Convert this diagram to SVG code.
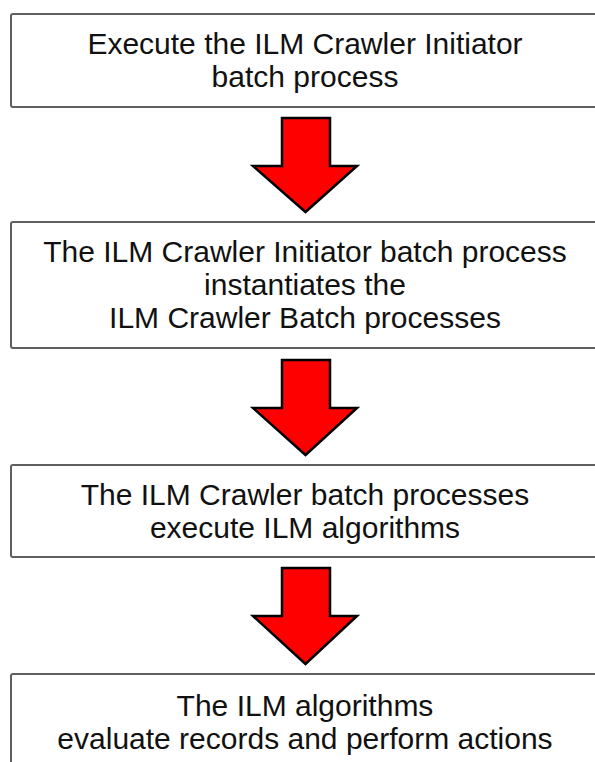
<svg xmlns="http://www.w3.org/2000/svg" width="595" height="762" viewBox="0 0 595 762">
<style>
.box{fill:#ffffff;stroke:#5f5f5f;stroke-width:2}
.t{font-family:"Liberation Sans",Arial,sans-serif;font-size:30px;fill:#111111;text-anchor:middle}
.arr{fill:#ff0000;stroke:#000000;stroke-width:2.5;stroke-linejoin:miter}
</style>
<rect width="595" height="762" fill="#ffffff"/>
<g id="node1">
<rect class="box" x="11" y="14" width="600" height="93" rx="2"/>
<text class="t" x="305" y="54">Execute the ILM Crawler Initiator</text>
<text class="t" x="305" y="87">batch process</text>
</g>
<g id="node2">
<rect class="box" x="11" y="222" width="600" height="126" rx="2"/>
<text class="t" x="305" y="262">The ILM Crawler Initiator batch process</text>
<text class="t" x="305" y="295">instantiates the</text>
<text class="t" x="305" y="328">ILM Crawler Batch processes</text>
</g>
<g id="node3">
<rect class="box" x="11" y="465" width="600" height="92" rx="2"/>
<text class="t" x="305" y="505">The ILM Crawler batch processes</text>
<text class="t" x="305" y="538">execute ILM algorithms</text>
</g>
<g id="node4">
<rect class="box" x="11" y="674" width="600" height="100" rx="2"/>
<text class="t" x="305" y="716">The ILM algorithms</text>
<text class="t" x="305" y="749">evaluate records and perform actions</text>
</g>
<g id="connectors">
<polygon class="arr" points="282,118 330,118 330,166 357,166 305.5,212 253,166 282,166"/>
<polygon class="arr" points="282,360 330,360 330,408 357,408 305.5,455 253,408 282,408"/>
<polygon class="arr" points="282,568 330,568 330,616 357,616 305.5,664 253,616 282,616"/>
</g>
</svg>
